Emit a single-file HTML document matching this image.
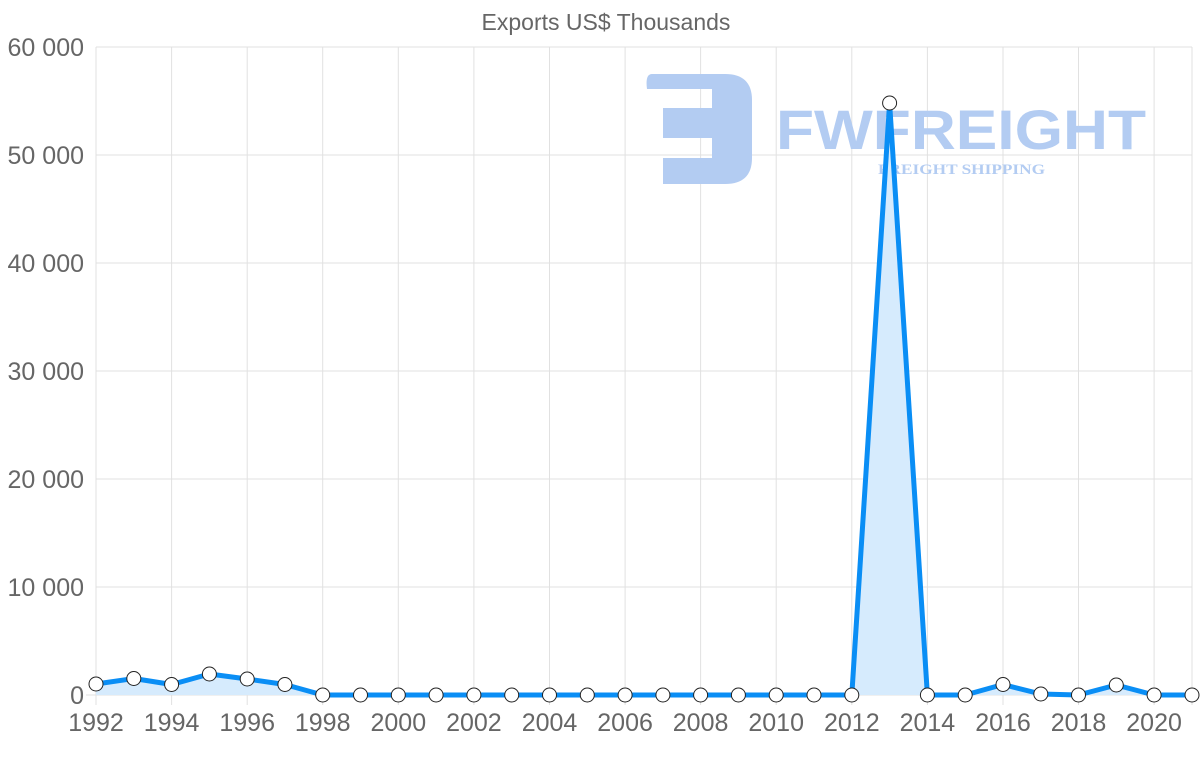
<!DOCTYPE html>
<html><head><meta charset="utf-8"><style>body{margin:0;background:#fff}svg{display:block}</style></head><body>
<svg width="1200" height="763" xmlns="http://www.w3.org/2000/svg" font-family="Liberation Sans, sans-serif">
<text x="606" y="30" text-anchor="middle" font-size="23" fill="#666">Exports US$ Thousands</text>
<g stroke="#e1e1e1" stroke-width="1">
<line x1="96" y1="47" x2="1192" y2="47"/><line x1="96" y1="155" x2="1192" y2="155"/><line x1="96" y1="263" x2="1192" y2="263"/><line x1="96" y1="371" x2="1192" y2="371"/><line x1="96" y1="479" x2="1192" y2="479"/><line x1="96" y1="587" x2="1192" y2="587"/><line x1="86" y1="695" x2="1192" y2="695"/>
<line x1="96" y1="47" x2="96" y2="705"/><line x1="171.6" y1="47" x2="171.6" y2="705"/><line x1="247.2" y1="47" x2="247.2" y2="705"/><line x1="322.7" y1="47" x2="322.7" y2="705"/><line x1="398.3" y1="47" x2="398.3" y2="705"/><line x1="473.9" y1="47" x2="473.9" y2="705"/><line x1="549.5" y1="47" x2="549.5" y2="705"/><line x1="625.1" y1="47" x2="625.1" y2="705"/><line x1="700.6" y1="47" x2="700.6" y2="705"/><line x1="776.2" y1="47" x2="776.2" y2="705"/><line x1="851.8" y1="47" x2="851.8" y2="705"/><line x1="927.4" y1="47" x2="927.4" y2="705"/><line x1="1003" y1="47" x2="1003" y2="705"/><line x1="1078.5" y1="47" x2="1078.5" y2="705"/><line x1="1154.1" y1="47" x2="1154.1" y2="705"/><line x1="1192" y1="47" x2="1192" y2="705"/>
</g>
<g font-size="25" fill="#666" text-anchor="end">
<text x="84" y="56">60 000</text><text x="84" y="164">50 000</text><text x="84" y="272">40 000</text><text x="84" y="380">30 000</text><text x="84" y="488">20 000</text><text x="84" y="596">10 000</text><text x="84" y="704">0</text>
</g>
<g font-size="25" fill="#666" text-anchor="middle">
<text x="96" y="731">1992</text><text x="171.6" y="731">1994</text><text x="247.2" y="731">1996</text><text x="322.7" y="731">1998</text><text x="398.3" y="731">2000</text><text x="473.9" y="731">2002</text><text x="549.5" y="731">2004</text><text x="625.1" y="731">2006</text><text x="700.6" y="731">2008</text><text x="776.2" y="731">2010</text><text x="851.8" y="731">2012</text><text x="927.4" y="731">2014</text><text x="1003" y="731">2016</text><text x="1078.5" y="731">2018</text><text x="1154.1" y="731">2020</text>
</g>
<g fill="#b3ccf2">
<path d="M652 74 H725 Q752 74 752 100 V158 Q752 184 725 184 H663 V158 H712 V138 H663 V108 H712 V89 H647 Q645 74 652 74 Z"/>
<text x="776" y="149" font-size="56" font-weight="bold" textLength="370" lengthAdjust="spacingAndGlyphs">FWFREIGHT</text>
<text x="878" y="174" font-size="15" font-weight="bold" font-family="Liberation Serif, serif" textLength="167" lengthAdjust="spacingAndGlyphs">FREIGHT SHIPPING</text>
</g>
<path d="M96 684 L133.8 678.5 L171.6 684.5 L209.4 674 L247.2 679 L284.9 684.5 L322.7 695 L851.8 695 L889.6 103 L927.4 695 L965.2 695 L1003 684.5 L1040.8 694 L1078.5 695 L1116.3 685 L1154.1 695 L1192 695 L1192 695 L96 695 Z" fill="#d6ebfd"/>
<polyline points="96,684 133.8,678.5 171.6,684.5 209.4,674 247.2,679 284.9,684.5 322.7,695 360.5,695 398.3,695 436.1,695 473.9,695 511.7,695 549.5,695 587.3,695 625.1,695 662.9,695 700.6,695 738.4,695 776.2,695 814,695 851.8,695 889.6,103 927.4,695 965.2,695 1003,684.5 1040.8,694 1078.5,695 1116.3,685 1154.1,695 1192,695" fill="none" stroke="#0a8ef5" stroke-width="5" stroke-linejoin="round"/>
<g fill="#fff" stroke="#222" stroke-width="1">
<circle cx="96" cy="684" r="7"/><circle cx="133.8" cy="678.5" r="7"/><circle cx="171.6" cy="684.5" r="7"/><circle cx="209.4" cy="674" r="7"/><circle cx="247.2" cy="679" r="7"/><circle cx="284.9" cy="684.5" r="7"/><circle cx="322.7" cy="695" r="7"/><circle cx="360.5" cy="695" r="7"/><circle cx="398.3" cy="695" r="7"/><circle cx="436.1" cy="695" r="7"/><circle cx="473.9" cy="695" r="7"/><circle cx="511.7" cy="695" r="7"/><circle cx="549.5" cy="695" r="7"/><circle cx="587.3" cy="695" r="7"/><circle cx="625.1" cy="695" r="7"/><circle cx="662.9" cy="695" r="7"/><circle cx="700.6" cy="695" r="7"/><circle cx="738.4" cy="695" r="7"/><circle cx="776.2" cy="695" r="7"/><circle cx="814" cy="695" r="7"/><circle cx="851.8" cy="695" r="7"/><circle cx="889.6" cy="103" r="7"/><circle cx="927.4" cy="695" r="7"/><circle cx="965.2" cy="695" r="7"/><circle cx="1003" cy="684.5" r="7"/><circle cx="1040.8" cy="694" r="7"/><circle cx="1078.5" cy="695" r="7"/><circle cx="1116.3" cy="685" r="7"/><circle cx="1154.1" cy="695" r="7"/><circle cx="1192" cy="695" r="7"/>
</g>
</svg>
</body></html>
